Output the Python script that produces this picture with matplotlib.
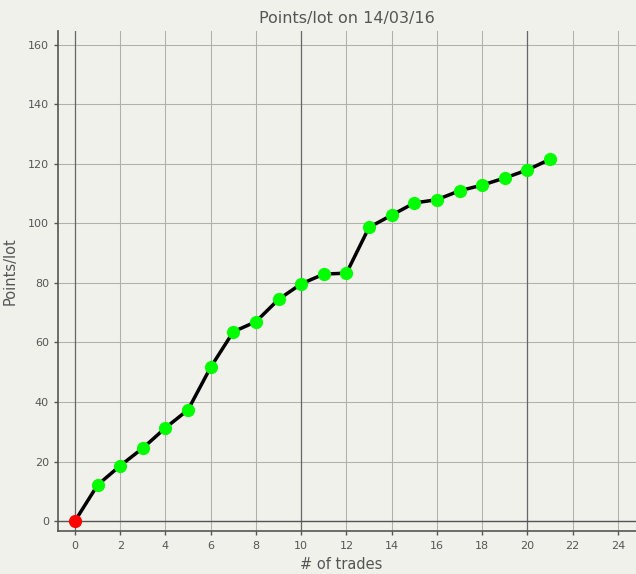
import numpy as np
import matplotlib.pyplot as plt

# Data
trades = list(range(22))
points = [0, 12.1, 18.6, 24.5, 31.3, 37.4, 51.7, 63.6, 67.0, 74.5, 79.7,
          83.0, 83.3, 98.7, 102.8, 106.9, 108.0, 111.0, 112.9, 115.3, 118.0, 121.6]
x_ticks = list(range(0, 25, 2))
y_ticks = list(range(0, 161, 20))

bg = "#f1f1ec"
grey = "#555555"

fig = plt.figure(figsize=(6.36, 5.74), dpi=100, facecolor=bg)
ax = fig.add_axes([58 / 636, 43 / 574, 578 / 636, 500 / 574], facecolor=bg)

ax.set_xlim(-0.75, 24.8)
ax.set_ylim(-3.36, 164.7)
ax.set_xticks(x_ticks)
ax.set_yticks(y_ticks)

# grid and heavier lines at 0, 10, 20
ax.grid(True, color="#b0b0ac", linewidth=0.75)
for xv in [0, 10, 20]:
    ax.axvline(xv, color="#666666", linewidth=0.9, zorder=1)
ax.axhline(0, color=grey, linewidth=1, zorder=1)
ax.set_axisbelow(True)

for s in ["top", "right"]:
    ax.spines[s].set_visible(False)
for s in ["left", "bottom"]:
    ax.spines[s].set_color(grey)
    ax.spines[s].set_linewidth(1.2)

ax.tick_params(colors=grey, labelsize=8, length=3, width=1)
ax.tick_params(axis="x", pad=4)

# the line and the markers
ax.plot(trades, points, color="black", linewidth=2.5, zorder=3)
ax.plot(trades[1:], points[1:], "o", color="#00ff00", markersize=8.5, zorder=4)
ax.plot(trades[:1], points[:1], "o", color="#ff0000", markersize=8.5, zorder=4)

ax.set_title("Points/lot on 14/03/16", color=grey, fontsize=11.5, pad=6)
ax.set_xlabel("# of trades", color=grey, fontsize=10.5)
ax.set_ylabel("Points/lot", color=grey, fontsize=10.5)
ax.xaxis.set_label_coords(0.49, -0.052)
ax.yaxis.set_label_coords(-0.07, 0.52)

fig.savefig("out.png", dpi=100, facecolor=bg)
